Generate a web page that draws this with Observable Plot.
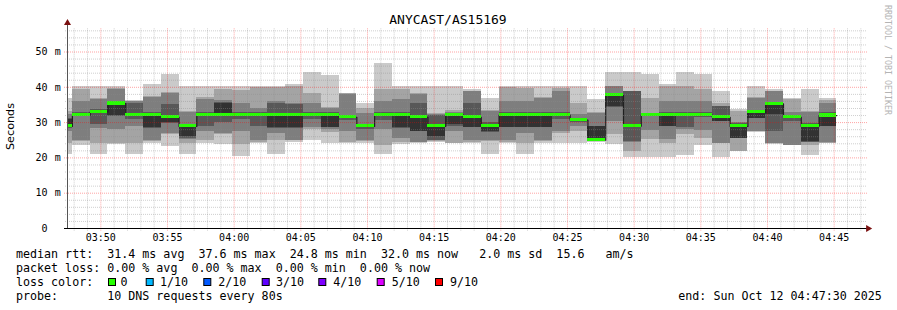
<!DOCTYPE html>
<html><head><meta charset="utf-8">
<script src="https://cdn.jsdelivr.net/npm/d3@7"></script>
<script src="https://cdn.jsdelivr.net/npm/@observablehq/plot@0.6"></script>
<style>
body{margin:0;background:#fff;}
#wrap{position:relative;width:897px;height:310px;overflow:hidden;background:#fff;}
#wrap svg{position:absolute;left:0;top:0;}
</style></head><body><div id="wrap"></div>
<script>
// ---- data (ms), sorted pings per 80 s step (first step is partial) ----
const p1  = [21.0,23.5,21.0,23.8,21.0,24.1,23.3,21.0,24.1,23.7, 20.5,24.0,21.0,24.5,24.8,24.0,24.0,24.0,21.0,23.8, 24.0,24.5,24.0,24.0,21.0,24.1,21.0,24.1,24.1,24.1, 24.5,23.9,20.1,20.1,20.1,20.8,23.5,20.1,21.7,27.2, 23.8,23.4,20.8,24.1];
const p2  = [24.1,24.6,24.1,24.0,24.1,24.6,26.5,24.1,25.0,26.5, 23.7,24.3,24.8,24.8,28.0,27.2,24.5,24.6,23.5,24.5, 24.3,24.6,24.1,24.5,24.6,24.5,24.1,24.6,27.0,27.4, 24.6,26.5,21.8,25.1,24.0,26.5,25.6,24.0,21.8,27.4, 24.0,23.5,23.5,24.2];
const p3  = [27.4,25.0,28.3,28.0,29.0,25.0,27.0,25.3,27.5,27.0, 27.4,25.0,27.0,25.0,28.5,28.0,27.5,25.0,28.0,25.5, 24.5,24.8,27.4,24.8,24.8,24.8,27.0,24.8,27.4,29.0, 24.6,30.3,24.5,27.9,25.1,28.0,27.9,24.2,25.4,27.5, 24.2,23.6,24.4,24.3];
const p4  = [28.3,31.8,29.5,31.8,31.0,28.4,29.8,25.6,29.0,30.0, 31.0,29.0,28.4,28.4,31.0,28.6,30.5,28.0,30.5,28.4, 27.4,24.9,28.8,28.5,27.3,28.5,28.5,28.5,31.0,30.0, 24.7,34.4,24.6,31.8,28.8,28.6,31.5,30.2,25.5,31.1, 27.5,30.3,24.5,28.8];
const p5  = [28.8,32.0,32.6,32.1,32.0,28.6,30.0,26.1,32.0,32.0, 32.0,32.0,28.5,28.5,32.0,28.7,31.3,28.7,32.0,28.5, 27.5,26.1,29.5,28.6,27.4,28.6,28.6,28.6,32.0,30.5, 24.8,34.5,28.8,32.0,28.9,32.0,32.0,30.3,25.6,31.2, 32.2,31.2,24.6,28.9];
const p6  = [31.0,32.4,33.1,35.5,32.6,32.4,32.0,29.3,32.4,35.5, 32.4,32.4,32.5,32.5,32.4,32.4,31.8,29.2,32.4,32.4, 31.8,29.3,32.4,31.8,29.3,32.4,32.4,32.4,32.4,30.9, 28.9,37.9,29.5,32.3,32.4,32.4,32.4,31.8,29.4,33.1, 35.5,31.8,29.4,32.4];
const p7  = [31.2,33.0,33.8,35.8,35.3,33.0,35.0,29.6,33.0,35.6, 33.0,33.0,35.5,35.0,33.0,33.0,32.0,29.5,33.0,33.0, 35.3,32.1,32.6,35.4,30.0,33.0,33.0,33.0,33.0,31.2, 29.0,38.2,38.7,32.4,33.0,33.0,33.0,34.5,29.8,33.5, 35.8,32.0,29.8,33.0];
const p8  = [32.2,36.1,36.5,39.4,36.0,37.0,38.2,32.8,36.6,36.3, 35.3,34.0,36.0,35.5,35.3,34.0,38.0,32.5,36.0,36.6, 38.0,32.3,33.0,38.7,33.1,36.1,36.1,36.8,38.7,32.3, 32.6,40.2,38.8,32.6,36.1,36.1,36.1,34.6,30.0,36.9, 38.7,32.8,32.8,35.5];
const p9  = [33.1,39.4,36.9,39.6,36.1,37.5,38.5,33.1,37.0,39.5, 39.0,40.0,40.0,40.2,38.2,34.2,38.2,34.0,39.5,39.5, 38.2,32.5,33.5,38.8,33.5,40.0,39.7,37.0,39.7,35.4, 33.0,40.3,38.9,36.9,40.2,40.2,39.4,35.5,33.1,37.0, 38.8,36.5,33.1,36.4];
const p10 = [36.9,40.2,40.2,40.2,36.3,40.8,43.5,40.2,40.2,40.2, 40.2,40.2,40.2,40.8,44.3,43.4,38.3,35.5,46.7,40.2, 40.2,40.2,40.3,39.4,36.9,40.3,40.3,40.3,40.3,40.2, 36.5,44.2,44.2,43.5,40.8,44.2,43.5,38.8,33.6,40.2, 39.4,36.9,39.4,36.9];
const median = [28.9,32.1,33.0,35.4,32.2,32.1,31.5,28.9,32.1,32.1, 32.1,32.1,32.1,32.1,32.1,32.1,31.5,28.9,32.1,32.1, 31.5,28.9,32.1,31.5,28.9,32.1,32.1,32.1,32.1,30.7, 25.0,37.7,29.0,32.1,32.1,32.1,32.1,31.5,28.9,32.9, 35.3,31.5,28.9,32.0];

const smokeColors = ["#cacaca","#a4a4a4","#7e7e7e","#585858","#323232"];
const lossColors = ["#26ff00","#00b8ff","#0059ff","#5e00ff","#7e00ff","#dd00ff","#ff0000"];
const lossLabels = ["0","1/10","2/10","3/10","4/10","5/10","9/10"];
const yTicks = [0,10,20,30,40,50];
const yMinor = [2,4,6,8,12,14,16,18,22,24,26,28,32,34,36,38,42,44,46,48,52,54,56];
const statsLine = "median rtt:  31.4 ms avg  37.6 ms max  24.8 ms min  32.0 ms now   2.0 ms sd  15.6   am/s";
const lossLine = "packet loss: 0.00 % avg  0.00 % max  0.00 % min  0.00 % now";
const probeLine = "probe:       10 DNS requests every 80s";
const endLine = "end: Sun Oct 12 04:47:30 2025";
const title = "ANYCAST/AS15169";

// ---- time ----
const T = (h,m,s) => new Date(Date.UTC(2025,9,12,h,m,s));
const tStart = T(3,47,30), tEnd = T(4,47,30);
const firstEnd = T(3,47,52).getTime();
const bounds = [tStart, ...d3.range(44).map(i => new Date(firstEnd + i*80000))];
const minutes = d3.utcMinute.range(T(3,48,0), tEnd);
const majorT = minutes.filter(d => d.getUTCMinutes() % 5 === 0);
const minorT = minutes.filter(d => d.getUTCMinutes() % 5 !== 0);

const pings = [p1,p2,p3,p4,p5,p6,p7,p8,p9,p10];
const smoke = [];
for (let k = 0; k < 5; k++) for (let i = 0; i < median.length; i++)
  smoke.push({t1: bounds[i], t2: bounds[i+1], lo: pings[k][i], hi: pings[9-k][i], c: smokeColors[k]});
const med = median.map((m,i) => ({t1: bounds[i], t2: bounds[i+1], m}));
const medLine = [...med.map(d => ({t: d.t1, m: d.m})), {t: bounds[median.length], m: median[median.length-1]}];

const sec = ms => new Date(ms);
const xL = sec(tStart.getTime() - 13500), xR = sec(tEnd.getTime() + 3000);
const mono = "DejaVu Sans Mono, monospace";
const gridMinor = "rgba(140,140,140,0.42)", gridMajor = "rgba(255,0,0,0.36)";

const plot = Plot.plot({
  width: 897, height: 310,
  marginLeft: 67, marginRight: 30, marginTop: 28, marginBottom: 82,
  x: {type: "utc", domain: [tStart, tEnd], axis: null},
  y: {domain: [0, 56.66], axis: null},
  color: {type: "identity"},
  style: {background: "transparent", overflow: "visible"},
  marks: [
    Plot.rect(smoke, {x1: "t1", x2: "t2", y1: "lo", y2: "hi", fill: "c", shapeRendering: "crispEdges"}),
    Plot.line(medLine, {x: "t", y: "m", curve: "step-after", stroke: "#202020", strokeWidth: 1.2}),
    Plot.rect(med, {x1: "t1", x2: "t2", y1: d => d.m - 0.42, y2: d => d.m + 0.45, fill: lossColors[0], shapeRendering: "crispEdges"}),
    Plot.ruleX(minorT, {y1: -0.75, y2: 56.66, stroke: gridMinor, strokeDasharray: "1,1"}),
    Plot.ruleX(majorT, {y1: -0.75, y2: 56.66, stroke: gridMajor, strokeDasharray: "1,1"}),
    Plot.ruleY(yMinor, {x1: sec(tStart.getTime()-9000), x2: tEnd, stroke: gridMinor, strokeDasharray: "1,1"}),
    Plot.ruleY(yTicks.slice(1), {x1: xL, x2: tEnd, stroke: gridMajor, strokeDasharray: "1,1"}),
    Plot.ruleX([tStart], {y1: 0, y2: 58.3, stroke: "#555"}),
    Plot.ruleY([0], {x1: xL, x2: xR, stroke: "#000"}),
    Plot.dot([{x: tStart, y: 58.2}], {x: "x", y: "y", symbol: "triangle", r: 2.6, fill: "#7a1010", stroke: "none"}),
    Plot.dot([{x: xR, y: 0}], {x: "x", y: "y", symbol: "triangle", r: 2.6, rotate: 90, fill: "#7a1010", stroke: "none"}),
    Plot.text(majorT, {x: d => d, y: 0, dy: 9, text: d3.utcFormat("%H:%M"), fontFamily: mono, fontSize: 10, fill: "#000"}),
    Plot.text(yTicks, {x: tStart, y: d => d, dx: -20, textAnchor: "end", text: d => String(d), fontFamily: mono, fontSize: 10, fill: "#000"}),
    Plot.text(yTicks.slice(1), {x: tStart, y: d => d, dx: -12.7, textAnchor: "start", text: () => "m", fontFamily: mono, fontSize: 10, fill: "#000"})
  ]
});
document.getElementById("wrap").appendChild(plot);

const svg = d3.select(plot);
function txt(x, y, s, size, opts = {}) {
  const t = svg.append("text").attr("x", x).attr("y", y)
    .attr("font-family", opts.family || mono).attr("font-size", size)
    .attr("fill", opts.fill || "#000").attr("text-anchor", opts.anchor || "start")
    .attr("xml:space", "preserve").style("white-space", "pre").text(s);
  if (opts.transform) t.attr("transform", opts.transform);
  return t;
}
txt(448, 24, title, 13, {anchor: "middle"});
txt(16, 257.5, statsLine, 11.66);
txt(16, 271.5, lossLine, 11.66);
txt(16, 285.5, "loss color:", 11.66);
txt(16, 299.5, probeLine, 11.66);
txt(678.3, 299.5, endLine, 11.66);
const boxX = [108, 145.7, 203.3, 261.7, 318.3, 376.7, 435];
const labX = [120.5, 160, 218.3, 276, 333.3, 391.7, 450];
lossColors.forEach((c, i) => {
  svg.append("rect").attr("x", boxX[i] + 0.5).attr("y", 278.5).attr("width", 7).attr("height", 7)
    .attr("fill", c).attr("stroke", "#000").attr("stroke-width", 1);
  txt(labX[i], 285.5, lossLabels[i], 11.66);
});
txt(14, 126.5, "Seconds", 11.2, {family: "DejaVu Sans, sans-serif", anchor: "middle", transform: "rotate(-90 14 126.5)"});
txt(885.3, 5, "RRDTOOL / TOBI OETIKER", 8.3, {fill: "#b4b4b4", transform: "rotate(90 885.3 5)"});
</script></body></html>
